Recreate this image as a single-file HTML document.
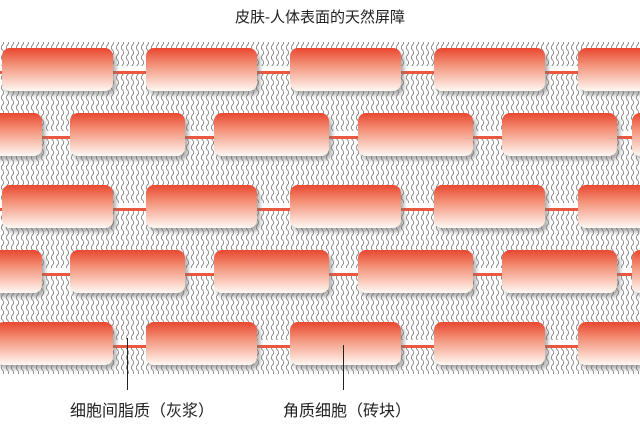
<!DOCTYPE html>
<html><head><meta charset="utf-8"><style>
body{margin:0;background:#fff;width:640px;height:431px;overflow:hidden;font-family:"Liberation Sans","Noto Sans CJK SC",sans-serif}
</style></head><body>
<svg width="640" height="431" xmlns="http://www.w3.org/2000/svg">
<defs>
<pattern id="w" width="5" height="10" patternUnits="userSpaceOnUse">
<path d="M2.5 0 Q5 2.5 2.5 5 Q0 7.5 2.5 10" fill="none" stroke="#555" stroke-width="0.6"/>
</pattern>
<linearGradient id="g" x1="0" y1="0" x2="0" y2="1">
<stop offset="0" stop-color="#e9472f"/><stop offset="0.4" stop-color="#f3937a"/><stop offset="1" stop-color="#fff8f3"/>
</linearGradient>
<filter id="s" x="-10%" y="-10%" width="130%" height="140%"><feDropShadow dx="3" dy="4" stdDeviation="2" flood-color="#777" flood-opacity="0.6"/></filter>
</defs>
<text x="320" y="22" font-size="15" text-anchor="middle" fill="#222" font-family="Liberation Sans,Noto Sans CJK SC,sans-serif">皮肤-人体表面的天然屏障</text>
<rect x="0" y="42" width="640" height="332" fill="url(#w)"/>
<g fill="#e9583f">
<rect x="0" y="71" width="640" height="3"/>
<rect x="0" y="136" width="640" height="3"/>
<rect x="0" y="208" width="640" height="3"/>
<rect x="0" y="273" width="640" height="3"/>
<rect x="0" y="345" width="640" height="3"/>
</g>
<g fill="#fff">
<rect x="0" y="66" width="640" height="5"/>
<rect x="0" y="131" width="640" height="5"/>
<rect x="0" y="203" width="640" height="5"/>
<rect x="0" y="268" width="640" height="5"/>
<rect x="0" y="340" width="640" height="5"/>
</g>
<g fill="url(#g)" filter="url(#s)">
<rect x="2" y="48" width="111" height="43" rx="8"/><rect x="146" y="48" width="111" height="43" rx="8"/><rect x="290" y="48" width="111" height="43" rx="8"/><rect x="434" y="48" width="111" height="43" rx="8"/><rect x="578" y="48" width="111" height="43" rx="8"/>
<rect x="-74" y="113" width="116" height="43" rx="8"/><rect x="70" y="113" width="115" height="43" rx="8"/><rect x="214" y="113" width="115" height="43" rx="8"/><rect x="358" y="113" width="115" height="43" rx="8"/><rect x="502" y="113" width="115" height="43" rx="8"/><rect x="632" y="113" width="40" height="43" rx="8"/>
<rect x="2" y="185" width="111" height="43" rx="8"/><rect x="146" y="185" width="111" height="43" rx="8"/><rect x="290" y="185" width="111" height="43" rx="8"/><rect x="434" y="185" width="111" height="43" rx="8"/><rect x="578" y="185" width="111" height="43" rx="8"/>
<rect x="-74" y="250" width="116" height="43" rx="8"/><rect x="70" y="250" width="115" height="43" rx="8"/><rect x="214" y="250" width="115" height="43" rx="8"/><rect x="358" y="250" width="115" height="43" rx="8"/><rect x="502" y="250" width="115" height="43" rx="8"/><rect x="632" y="250" width="40" height="43" rx="8"/>
<rect x="-4" y="322" width="117" height="43" rx="8"/><rect x="146" y="322" width="111" height="43" rx="8"/><rect x="290" y="322" width="111" height="43" rx="8"/><rect x="434" y="322" width="111" height="43" rx="8"/><rect x="578" y="322" width="111" height="43" rx="8"/>
</g>
<line x1="127.5" y1="338" x2="127.5" y2="390" stroke="#222" stroke-width="1"/>
<line x1="343.5" y1="345" x2="343.5" y2="390" stroke="#222" stroke-width="1"/>
<text x="70" y="416" font-size="16" fill="#222">细胞间脂质（灰浆）</text>
<text x="283" y="416" font-size="16" fill="#222">角质细胞（砖块）</text>
</svg>
</body></html>
